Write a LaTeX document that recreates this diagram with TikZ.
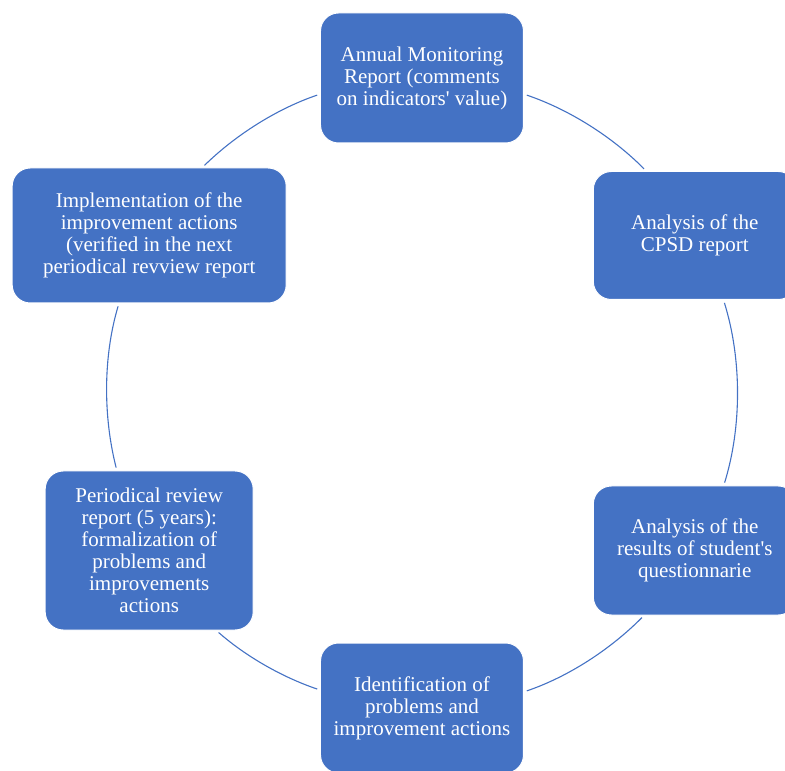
\documentclass[tikz,border=0pt]{standalone}
\usepackage{fontspec}
\setmainfont{Liberation Serif}
\definecolor{cycleblue}{HTML}{4472C4}
\begin{document}
\begin{tikzpicture}[x=1pt, y=1pt,
    stagebox/.style={rectangle, rounded corners=18pt, fill=cycleblue, draw=white, line width=1pt,
      text=white, align=center, inner sep=2pt, font=\fontsize{21}{22}\selectfont},
    cycleline/.style={draw=cycleblue, line width=1.1pt, looseness=0.85, shorten <=3pt, shorten >=3pt}]
  \useasboundingbox (-422,-378) rectangle (363,393);
  \clip (-422,-378) rectangle (363,393);
  \coordinate (centre) at (0,0);
  \node[stagebox, minimum width=203pt, minimum height=130pt] (amr) at (90:315) {Annual Monitoring\\Report (comments\\on indicators\textquotesingle{} value)};
  \node[stagebox, minimum width=203pt, minimum height=128pt] (cpsd) at (30:315) {Analysis of the\\CPSD report};
  \node[stagebox, minimum width=203pt, minimum height=129pt] (quest) at (-30:315) {Analysis of the\\results of student\textquotesingle{}s\\questionnarie};
  \node[stagebox, minimum width=203pt, minimum height=130pt] (ident) at (-90:315) {Identification of\\problems and\\improvement actions};
  \node[stagebox, minimum width=208pt, minimum height=159pt] (review) at (210:315) {Periodical review\\report (5 years):\\formalization of\\problems and\\improvements\\actions};
  \node[stagebox, minimum width=274pt, minimum height=135pt] (impl) at (150:315) {Implementation of the\\improvement actions\\(verified in the next\\periodical revview report};
  \draw[cycleline] (amr.-9.4) to[out=-18.8, in=134.7] (cpsd.127.3);
  \draw[cycleline] (cpsd.-66.4) to[out=-72.7, in=72.8] (quest.66.4);
  \draw[cycleline] (quest.232.6) to[out=-134.8, in=18.8] (ident.9.4);
  \draw[cycleline] (ident.170.6) to[out=161.2, in=-41.2] (review.-50.6);
  \draw[cycleline] (review.112.2) to[out=104.3, in=253.4] (impl.246.7);
  \draw[cycleline] (impl.52.2) to[out=44.4, in=198.8] (amr.189.4);
\end{tikzpicture}
\end{document}
